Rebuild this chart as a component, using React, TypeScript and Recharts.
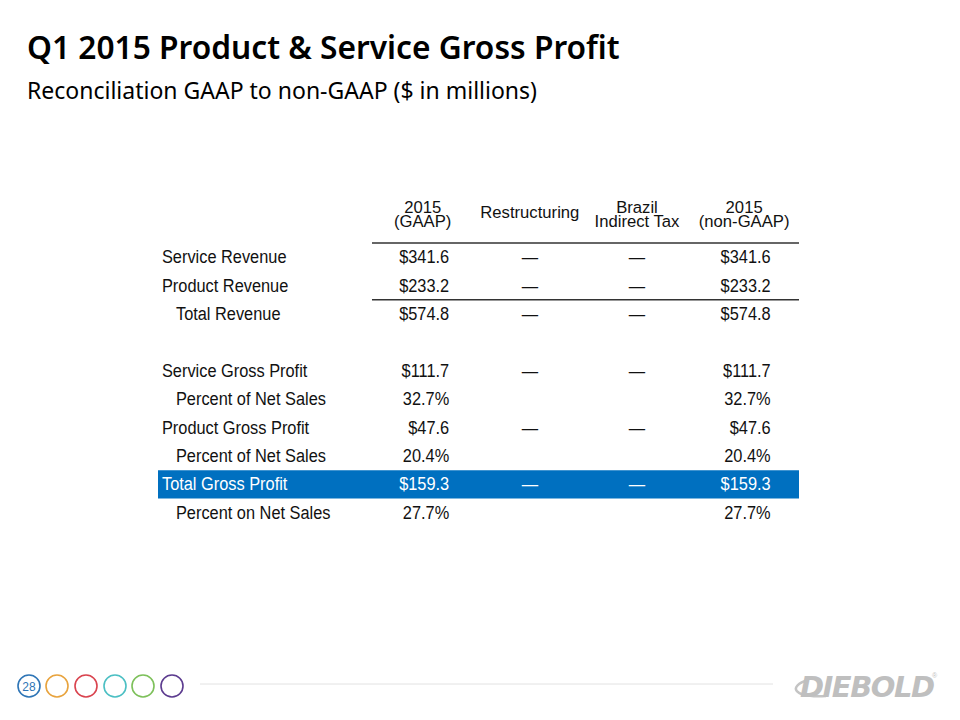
import React from "react";
import {
  ReferenceArea,
  ReferenceLine,
  Scatter,
  ScatterChart,
  XAxis,
  YAxis,
} from "recharts";

// table rows, top to bottom
const rowLabels = [
  "Service Revenue",
  "Product Revenue",
  "Total Revenue",
  "",
  "Service Gross Profit",
  "Percent of Net Sales",
  "Product Gross Profit",
  "Percent of Net Sales",
  "Total Gross Profit",
  "Percent on Net Sales",
];
const rowIndent = [0, 0, 1, 0, 0, 1, 0, 1, 0, 1];
const rowUnit = ["$", "$", "$", "", "$", "%", "$", "%", "$", "%"];

const gaap = [341.6, 233.2, 574.8, null, 111.7, 32.7, 47.6, 20.4, 159.3, 27.7];
const restructuring = [0, 0, 0, null, 0, null, 0, null, 0, null];
const brazilIndirectTax = [0, 0, 0, null, 0, null, 0, null, 0, null];
const nonGaap = [341.6, 233.2, 574.8, null, 111.7, 32.7, 47.6, 20.4, 159.3, 27.7];

const columnHeaders = [
  ["2015", "(GAAP)"],
  ["Restructuring"],
  ["Brazil", "Indirect Tax"],
  ["2015", "(non-GAAP)"],
];
const columns = [gaap, restructuring, brazilIndirectTax, nonGaap];

const highlightRow = 8; // Total Gross Profit
const ruleAfterRows = [-1, 1]; // rule under header, under Product Revenue

// the slide uses a narrow Helvetica, so squeeze Liberation Sans horizontally
const FONT = "'Liberation Sans', Arial, sans-serif";
const BODY_SIZE = 18.6;
const BODY_SQUEEZE = 0.88;
const HEAD_SIZE = 17;
const HEAD_SQUEEZE = 0.98;
const LABEL_X = -2.433;
const X_DOMAIN: [number, number] = [-2.47, 3.512];
const RULE_START = -0.473;

function fmt(v: number | null, unit: string) {
  if (v === null) return "";
  if (v === 0) return "\u2014";
  if (unit === "%") return `${v.toFixed(1)}%`;
  return `$${v.toFixed(1)}`;
}

type Cell = { x: number; y: number; text: string; indent?: number; dash?: boolean };

const labelCells: Cell[] = rowLabels
  .map((t, i) => ({ x: LABEL_X, y: i, text: t, indent: rowIndent[i] }))
  .filter((c) => c.text !== "");

const valueCells: Cell[][] = columns.map((col, ci) =>
  col
    .map((v, i) => ({ x: ci, y: i, text: fmt(v, rowUnit[i]), dash: v === 0 }))
    .filter((c) => c.text !== "")
);

function Squeezed({ x, y, anchor, size, squeeze, fill, children }: any) {
  return (
    <text
      transform={`translate(${x} ${y}) scale(${squeeze} 1)`}
      textAnchor={anchor}
      fontFamily={FONT}
      fontSize={size}
      fill={fill}
    >
      {children}
    </text>
  );
}

function CellText(props: any) {
  const { cx, cy, payload, label } = props;
  const white = payload.y === highlightRow;
  // labels start at the left, dashes are centred, figures are right aligned
  let x = cx + (payload.indent ?? 0) * 14;
  let anchor = "start";
  if (!label) {
    anchor = payload.dash ? "middle" : "end";
    x = payload.dash ? cx : cx + 26.5;
  }
  return (
    <Squeezed
      x={x}
      y={cy + 6}
      anchor={anchor}
      size={BODY_SIZE}
      squeeze={BODY_SQUEEZE}
      fill={white ? "#ffffff" : "#111111"}
    >
      {payload.text}
    </Squeezed>
  );
}

function HeaderTick(props: any) {
  const { x, y, payload } = props;
  const lines = columnHeaders[payload.value] ?? [];
  const base = lines.length === 1 ? [-24.7] : [-30.5, -16];
  return (
    <g>
      {lines.map((l, i) => (
        <Squeezed
          key={i}
          x={x}
          y={y + base[i]}
          anchor="middle"
          size={HEAD_SIZE}
          squeeze={HEAD_SQUEEZE}
          fill="#111111"
        >
          {l}
        </Squeezed>
      ))}
    </g>
  );
}

function Footer() {
  const rings = ["#2e75b6", "#e8a33d", "#d9434e", "#4bbfc3", "#7dc05a", "#5c3b8f"];
  const ringX = [29, 57, 86, 115, 143, 172];
  return (
    <svg width={960} height={60} style={{ position: "absolute", left: 0, top: 656 }}>
      {rings.map((c, i) => (
        <circle key={i} cx={ringX[i]} cy={30} r={11} fill="none" stroke={c} strokeWidth={1.6} />
      ))}
      <text x={29} y={34.5} textAnchor="middle" fontFamily={FONT} fontSize={12} fill="#2e75b6">
        28
      </text>
      <line x1={200} x2={773} y1={28} y2={28} stroke="#e2e2e2" strokeWidth={1} />
      <path d="M 808 24 C 788 30, 792 42, 826 40" fill="none" stroke="#c4c4c4" strokeWidth={2.5} />
      <text
        x={800}
        y={41}
        fontFamily="'DejaVu Sans', sans-serif"
        fontWeight={700}
        fontStyle="italic"
        fontSize={29}
        letterSpacing={-1.5}
        fill="#bfbfbf"
      >
        DIEBOLD
      </text>
      <text x={932} y={22} fontFamily={FONT} fontSize={7} fill="#bfbfbf">
        ®
      </text>
    </svg>
  );
}

export default function App() {
  return (
    <div
      style={{
        position: "absolute",
        left: 0,
        top: 0,
        width: 960,
        height: 720,
        background: "#ffffff",
        overflow: "hidden",
      }}
    >
      <div
        style={{
          position: "absolute",
          left: 27,
          top: 25,
          fontFamily: "'Noto Sans', 'Open Sans', sans-serif",
          fontWeight: 600,
          fontSize: 31.7,
          lineHeight: "44px",
          color: "#000",
          whiteSpace: "nowrap",
        }}
      >
        Q1 2015 Product &amp; Service Gross Profit
      </div>
      <div
        style={{
          position: "absolute",
          left: 27,
          top: 74,
          fontFamily: "'Noto Sans', 'Open Sans', sans-serif",
          fontSize: 23,
          lineHeight: "32px",
          color: "#000",
          whiteSpace: "nowrap",
        }}
      >
        Reconciliation GAAP to non-GAAP ($ in millions)
      </div>

      <ScatterChart
        width={960}
        height={720}
        margin={{ top: 203, right: 161, bottom: 193, left: 158 }}
        style={{ position: "absolute", left: 0, top: 0 }}
      >
        <XAxis
          type="number"
          dataKey="x"
          orientation="top"
          domain={X_DOMAIN}
          ticks={[0, 1, 2, 3]}
          interval={0}
          height={40}
          tickSize={0}
          tickMargin={0}
          axisLine={false}
          tickLine={false}
          tick={<HeaderTick />}
          allowDataOverflow
        />
        <YAxis type="number" dataKey="y" domain={[-0.5, 9.5]} reversed hide width={0} />
        <ReferenceArea
          x1={X_DOMAIN[0]}
          x2={X_DOMAIN[1]}
          y1={highlightRow - 0.5}
          y2={highlightRow + 0.5}
          fill="#0070c0"
          fillOpacity={1}
          stroke="none"
        />
        {ruleAfterRows.map((r) => (
          <ReferenceLine
            key={r}
            segment={[
              { x: RULE_START, y: r + 0.5 },
              { x: X_DOMAIN[1], y: r + 0.5 },
            ]}
            stroke="#333333"
            strokeWidth={1.5}
          />
        ))}
        <Scatter
          data={labelCells}
          isAnimationActive={false}
          shape={(p: any) => <CellText {...p} label />}
        />
        {valueCells.map((cells, ci) => (
          <Scatter
            key={ci}
            data={cells}
            isAnimationActive={false}
            shape={(p: any) => <CellText {...p} />}
          />
        ))}
      </ScatterChart>
      <Footer />
    </div>
  );
}
